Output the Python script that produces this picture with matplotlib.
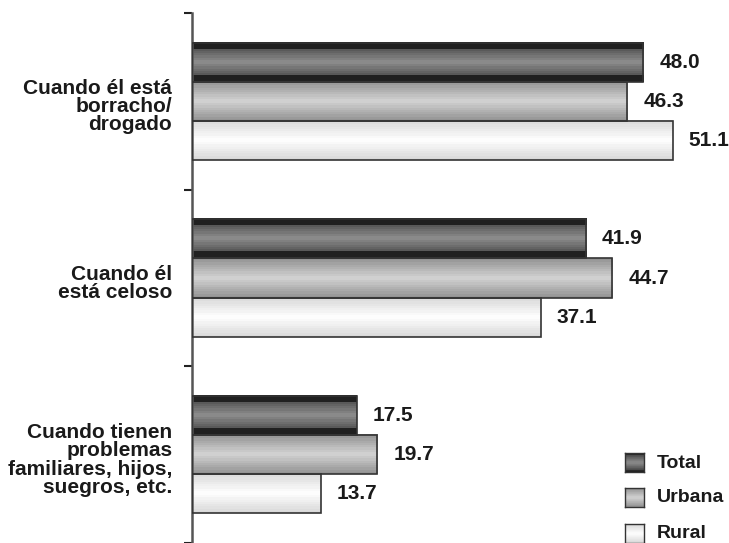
import numpy as np
import matplotlib.pyplot as plt
from matplotlib.patches import Rectangle

plt.rcParams['font.family'] = ['Liberation Sans', 'DejaVu Sans']

categories = ['Cuando él está\nborracho/\ndrogado',
              'Cuando él\nestá celoso',
              'Cuando tienen\nproblemas\nfamiliares, hijos,\nsuegros, etc.']
series = ['Total', 'Urbana', 'Rural']
total = [48.0, 41.9, 17.5]
urbana = [46.3, 44.7, 19.7]
rural = [51.1, 37.1, 13.7]


def gradient(name, n=18):
    # grey level bands, dark at the edges of the bar and light in the middle
    t = (np.arange(n) + 0.5) / n
    d = np.abs(t - 0.5) * 2
    if name == 'Total':
        g = np.where(d > 0.7, 0.13, 0.56 - 0.24 * d / 0.7)
    elif name == 'Urbana':
        g = 0.83 - 0.27 * d
    else:
        g = 1.0 - 0.16 * d
    return g.reshape(-1, 1)


def grad_bar(ax, x0, x1, y0, y1, name):
    ax.imshow(gradient(name), extent=[x0, x1, y1, y0], cmap='gray',
              vmin=0, vmax=1, aspect='auto', interpolation='nearest',
              origin='upper', zorder=2)
    ax.add_patch(Rectangle((x0, y0), x1 - x0, y1 - y0, fill=False,
                           edgecolor='#333333', linewidth=1.2, zorder=3))


fig = plt.figure(figsize=(7.29, 5.43), dpi=100)
ax = fig.add_axes([192 / 729, -4 / 543, 536 / 729, 534 / 543])

h = 0.2215
values = {'Total': total, 'Urbana': urbana, 'Rural': rural}
for i in range(len(categories)):
    for j, s in enumerate(series):
        v = values[s][i]
        yc = i + (j - 1) * h
        grad_bar(ax, 0, v, yc - h / 2, yc + h / 2, s)
        ax.text(v + 1.7, yc, f'{v:.1f}', va='center', ha='left',
                fontsize=15, fontweight='bold', color='#1a1a1a')
    ax.text(-2.1, i + 0.03, categories[i], ha='right', va='center',
            fontsize=15, fontweight='bold', color='#1a1a1a',
            linespacing=0.95)

ax.set_xlim(0, 57)
ax.set_ylim(2.5 + 4 / 177.5, -0.5)
for sp in ['top', 'right', 'bottom']:
    ax.spines[sp].set_visible(False)
ax.spines['left'].set_linewidth(1.8)
ax.spines['left'].set_color('#555555')
ax.set_xticks([])
ax.set_yticks([-0.5, 0.5, 1.5, 2.5])
ax.set_yticklabels([])
ax.tick_params(axis='y', length=6, width=1.5, color='#222222')

# legend swatches with the same gradients
ys = [453, 488, 524]
for s, y in zip(series, ys):
    lax = fig.add_axes([625 / 729, 1 - (y + 19) / 543, 19 / 729, 19 / 543])
    lax.imshow(gradient(s, 10), cmap='gray', vmin=0, vmax=1,
               aspect='auto', extent=[0, 1, 0, 1])
    lax.set_xticks([])
    lax.set_yticks([])
    for sp in lax.spines.values():
        sp.set_color('#333333')
        sp.set_linewidth(1.0)
    fig.text(657 / 729, 1 - (y + 10) / 543, s, ha='left', va='center',
             fontsize=14, fontweight='bold', color='#1a1a1a')

fig.savefig('out.png', dpi=100)
